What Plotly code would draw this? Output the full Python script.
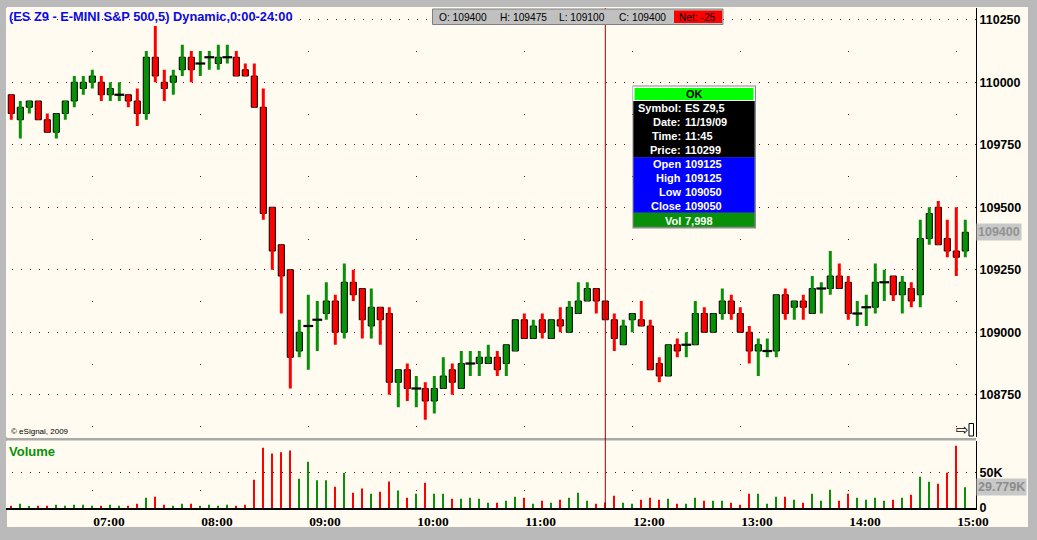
import plotly.graph_objects as go
import pandas as pd

# ---------------- data ----------------
bar_times = pd.date_range("2009-11-19 06:15", periods=107, freq="5min")

opens = [109950, 109850, 109900, 109925, 109850, 109800, 109875, 109925, 109975, 110000,
         110000, 109950, 109950, 109950, 109925, 109875, 110100, 110000, 110000, 110050,
         110100, 110075, 110100, 110075, 110100, 110100, 110050, 110025, 109900, 109500,
         109350, 109250, 108925, 109025, 109050, 109075, 109125, 109000, 109200, 109175,
         109025, 109100, 109075, 108800, 108850, 108775, 108775, 108725, 108775, 108850,
         108775, 108875, 108875, 108875, 108900, 108875, 108925, 109050, 108975, 109050,
         108975, 109050, 109000, 109075, 109125, 109175, 109125, 109050, 108950, 109050,
         109050, 109025, 108875, 108825, 108950, 108950, 108950, 109075, 109000, 109075,
         109125, 109075, 109000, 108925, 108925, 108925, 109150, 109100, 109125, 109075,
         109175, 109175, 109225, 109200, 109075, 109100, 109100, 109200, 109225, 109150,
         109175, 109150, 109375, 109500, 109375, 109325, 109325]
highs = [109950, 109925, 109925, 109925, 109875, 109875, 109925, 110025, 110025, 110050,
         110025, 110000, 110000, 109950, 109975, 110125, 110225, 110050, 110050, 110150,
         110125, 110125, 110125, 110150, 110150, 110125, 110075, 110075, 109975, 109500,
         109350, 109250, 109050, 109150, 109125, 109200, 109150, 109275, 109250, 109175,
         109175, 109100, 109100, 108850, 108875, 108825, 108800, 108825, 108900, 108875,
         108925, 108925, 108925, 108950, 108925, 108950, 109050, 109075, 109050, 109075,
         109050, 109100, 109125, 109200, 109200, 109175, 109125, 109075, 109050, 109075,
         109125, 109050, 108900, 108950, 108975, 109000, 109125, 109100, 109075, 109175,
         109150, 109100, 109025, 108975, 108975, 109150, 109175, 109125, 109150, 109225,
         109200, 109325, 109275, 109225, 109125, 109150, 109275, 109250, 109225, 109225,
         109200, 109450, 109500, 109525, 109450, 109500, 109450]
lows = [109850, 109775, 109875, 109850, 109800, 109775, 109850, 109900, 109950, 109975,
        109925, 109925, 109925, 109900, 109825, 109850, 110000, 109925, 109950, 110025,
        110000, 110025, 110050, 110050, 110075, 110025, 110025, 109900, 109450, 109250,
        109075, 108775, 108900, 108850, 108925, 109050, 108950, 108975, 109125, 108975,
        108975, 108950, 108750, 108700, 108725, 108700, 108650, 108675, 108775, 108750,
        108775, 108825, 108825, 108875, 108825, 108825, 108925, 108975, 108975, 108975,
        108975, 109000, 109000, 109075, 109125, 109075, 109050, 108925, 108950, 109000,
        109025, 108850, 108800, 108825, 108900, 108900, 108950, 109000, 109000, 109050,
        109050, 109000, 108875, 108825, 108900, 108900, 109050, 109050, 109050, 109075,
        109075, 109150, 109175, 109050, 109025, 109025, 109075, 109125, 109125, 109075,
        109100, 109100, 109350, 109350, 109300, 109225, 109300]
closes = [109875, 109900, 109925, 109850, 109800, 109875, 109925, 110000, 110000, 110025,
          109950, 109975, 109950, 109925, 109875, 110100, 110025, 109975, 110025, 110100,
          110050, 110075, 110100, 110100, 110100, 110025, 110025, 109900, 109475, 109325,
          109225, 108900, 109000, 109025, 109050, 109125, 109000, 109200, 109150, 109050,
          109100, 109050, 108800, 108850, 108775, 108775, 108725, 108775, 108825, 108800,
          108875, 108875, 108900, 108900, 108850, 108950, 109050, 108975, 109025, 109000,
          109050, 109025, 109100, 109125, 109175, 109125, 109050, 108975, 109025, 109075,
          109025, 108850, 108825, 108950, 108925, 108950, 109075, 109000, 109075, 109125,
          109075, 109000, 108925, 108950, 108925, 109150, 109075, 109125, 109100, 109175,
          109175, 109225, 109175, 109075, 109075, 109100, 109200, 109200, 109150, 109200,
          109125, 109375, 109475, 109350, 109325, 109300, 109400]
volumes = [3300, 6200, 1900, 3300, 3300, 4800, 3300, 4800, 4800, 3300,
           3300, 4800, 3300, 3300, 6200, 14800, 16200, 4800, 3300, 6200,
           6200, 3300, 4800, 3300, 4800, 3300, 4800, 40500, 86000, 78000,
           79500, 82000, 41900, 66000, 39500, 39500, 30500, 50000, 21900, 28000,
           20500, 23300, 38000, 25000, 14800, 20500, 36000, 20500, 20500, 13300,
           13300, 14800, 13300, 7600, 7600, 10500, 16200, 14800, 6200, 10500,
           7600, 11900, 14800, 21900, 10500, 6200, 7998, 17600, 7600, 6200,
           11900, 14800, 11900, 13300, 6200, 6200, 14800, 10500, 10500, 10500,
           7600, 4800, 20500, 20500, 6200, 16200, 16200, 11900, 7600, 20500,
           10500, 26200, 10500, 20500, 14800, 11900, 14800, 10500, 11900, 14800,
           19000, 44700, 37600, 34700, 50500, 89000, 29779]

price_ticks = [108750, 109000, 109250, 109500, 109750, 110000, 110250]
volume_ticks = [0, 50000]
volume_tick_text = ["0", "50K"]
cursor_bar = 66
title_text = "(ES Z9 - E-MINI S&P 500,5) Dynamic,0:00-24:00"
ohlc_labels = ["O: 109400", "H: 109475", "L: 109100", "C: 109400"]
net_label = "Net: -25"
tip_labels = ["Symbol:", "Date:", "Time:", "Price:", "Open", "High", "Low", "Close", "Vol"]
tip_values = ["ES Z9,5", "11/19/09", "11:45", "110299", "109125", "109125", "109050", "109050", "7,998"]

# ---------------- styling ----------------
W, H = 1037, 540
L, R, T, B = 6, 61, 8, 32
PW, PH = W - L - R, H - T - B
GREEN = "#089108"
RED = "#ff0000"
CREAM = "#fffbf0"
GRID = "#8b0000"
AXFONT = "Liberation Sans, Arial, sans-serif"
AXSIZE = 12.5


def px(x):
    return (x - L) / PW


def py(y):
    return (H - B - y) / PH


step = pd.Timedelta(minutes=5)
x_range = [bar_times[0] - 0.59 * step, bar_times[0] + 107.19 * step]
ms5 = 300000

fig = go.Figure()

# wicks
for color, want_up in ((GREEN, True), (RED, False)):
    xs, ys = [], []
    for t, o, h, l, c in zip(bar_times, opens, highs, lows, closes):
        if (c >= o) == want_up:
            xs += [t, t, None]
            ys += [l, h, None]
    fig.add_trace(go.Scatter(x=xs, y=ys, mode="lines", line=dict(color=color, width=3),
                             xaxis="x", yaxis="y", hoverinfo="skip"))

# bodies
bx, bbase, bh, bcol = [], [], [], []
dx, dy = [], []
for t, o, c in zip(bar_times, opens, closes):
    if o == c:
        dx.append(t)
        dy.append(o)
    else:
        bx.append(t)
        bbase.append(min(o, c))
        bh.append(abs(c - o))
        bcol.append(GREEN if c > o else RED)
fig.add_trace(go.Bar(x=bx, y=bh, base=bbase, width=0.68 * ms5,
                     marker=dict(color=bcol, line=dict(color="black", width=1)),
                     xaxis="x", yaxis="y", hoverinfo="skip"))
fig.add_trace(go.Scatter(x=dx, y=dy, mode="markers",
                         marker=dict(symbol="line-ew", size=7, line=dict(color="black", width=2.2)),
                         xaxis="x", yaxis="y", hoverinfo="skip"))

# volume
vcol = [GREEN if c >= o else RED for o, c in zip(opens, closes)]
fig.add_trace(go.Bar(x=bar_times, y=volumes, width=0.14 * ms5, marker=dict(color=vcol, line=dict(width=0)),
                     xaxis="x2", yaxis="y2", hoverinfo="skip"))

shapes = []
# cream window body
shapes.append(dict(type="rect", xref="paper", yref="paper", x0=px(7), x1=px(1028), y0=py(527), y1=py(7),
                   fillcolor=CREAM, line=dict(width=0), layer="below"))
# panel separator
shapes.append(dict(type="rect", xref="paper", yref="paper", x0=px(6), x1=px(976), y0=py(440.5), y1=py(438),
                   fillcolor="#a9a9a9", line=dict(width=0), layer="above"))
# crosshair
shapes.append(dict(type="line", xref="x", yref="paper", x0=bar_times[cursor_bar], x1=bar_times[cursor_bar],
                   y0=0, y1=1, line=dict(color="#990000", width=1), layer="above"))
# top OHLC box
shapes.append(dict(type="rect", xref="paper", yref="paper", x0=px(432.5), x1=px(723), y0=py(24.5), y1=py(9),
                   fillcolor="#c0c0c0", line=dict(color="#808080", width=1), layer="above"))
shapes.append(dict(type="rect", xref="paper", yref="paper", x0=px(674), x1=px(722), y0=py(23), y1=py(10.5),
                   fillcolor="#ff0000", line=dict(width=0), layer="above"))
# tooltip box
shapes.append(dict(type="rect", xref="paper", yref="paper", x0=px(632.5), x1=px(756), y0=py(228.5), y1=py(85.5),
                   fillcolor="#8a8a8a", line=dict(width=0), layer="above"))
shapes.append(dict(type="rect", xref="paper", yref="paper", x0=px(633), x1=px(755), y0=py(101), y1=py(86.5),
                   fillcolor="#ffffff", line=dict(width=0), layer="above"))
shapes.append(dict(type="rect", xref="paper", yref="paper", x0=px(634.5), x1=px(753.5), y0=py(100), y1=py(88),
                   fillcolor="#00ff00", line=dict(width=0), layer="above"))
for top, bot, col in ((101, 157.3, "#000000"), (157.3, 212.7, "#0000ff"), (212.7, 226.8, GREEN)):
    shapes.append(dict(type="rect", xref="paper", yref="paper", x0=px(633.5), x1=px(754.5), y0=py(bot), y1=py(top),
                       fillcolor=col, line=dict(width=0), layer="above"))
# scroll icon frame
shapes.append(dict(type="rect", xref="paper", yref="paper", x0=px(969), x1=px(973.5), y0=py(436), y1=py(423.5),
                   fillcolor="#ffffff", line=dict(color="black", width=1), layer="above"))

annotations = []


def ann(text, x, y, anchor="left", size=11, color="black", bold=False, family="Liberation Sans, Arial, sans-serif",
        bg=None):
    d = dict(text=text, xref="paper", yref="paper", x=px(x), y=py(y), xanchor=anchor, yanchor="middle",
             showarrow=False, font=dict(size=size, color=color, family=family, weight="bold" if bold else "normal"),
             borderpad=0)
    if bg:
        d["bgcolor"] = bg
    annotations.append(d)


ann(title_text, 8, 16, size=12.8, color="#0a0ae6", bold=True)
for lab, xx in zip(ohlc_labels, (438, 499, 558, 618)):
    ann(lab, xx, 17.3, size=10.2)
ann(net_label, 678, 17.3, size=10.2)
ann("© eSignal, 2009", 10, 431.5, size=8)
ann("Volume", 8, 451.5, size=13, color=GREEN, bold=True)
ann("⇨", 962, 430, anchor="center", size=15, family="DejaVu Sans, sans-serif")
ann("OK", 694, 94, anchor="center", size=11, bold=True)
rows_y = [108.3, 122.3, 136, 150.3, 164.3, 178.3, 192, 206, 220.7]
for lab, val, yy in zip(tip_labels, tip_values, rows_y):
    ann(lab, 681.5, yy, anchor="right", size=11, color="white", bold=True)
    ann(val, 684, yy, anchor="left", size=11, color="white", bold=True)

# last price / last volume markers on the axes
annotations.append(dict(text=str(closes[-1]), xref="paper", yref="y", x=1, y=closes[-1], xanchor="left",
                        yanchor="middle", showarrow=False, bgcolor="#c8c8c8", borderpad=1,
                        font=dict(size=AXSIZE, color="#929292", family=AXFONT, weight="bold")))
annotations.append(dict(text=f"{volumes[-1] / 1000:.3f}K", xref="paper", yref="y2", x=1, y=volumes[-1],
                        xanchor="left", yanchor="middle", showarrow=False, bgcolor="#c8c8c8", borderpad=1,
                        font=dict(size=AXSIZE, color="#8c8c8c", family=AXFONT, weight="bold")))

fig.update_layout(
    width=W, height=H, margin=dict(l=L, r=R, t=T, b=B, pad=0, autoexpand=False),
    paper_bgcolor="#bababa", plot_bgcolor=CREAM,
    showlegend=False, barmode="overlay", hovermode=False, dragmode=False,
    xaxis=dict(domain=[0, 1], anchor="y", type="date", range=x_range, showticklabels=False, automargin=False,
               tick0="2009-11-19 07:00", dtick=3600000, showgrid=True, gridcolor=GRID, gridwidth=1,
               griddash="0px,43px,1px,18.5px", zeroline=False, showline=False, ticks=""),
    xaxis2=dict(domain=[0, 1], anchor="y2", type="date", range=x_range, tickformat="%H:%M", automargin=False,
                tick0="2009-11-19 07:00", dtick=3600000, ticklabelposition="outside right",
                tickfont=dict(size=13.5, color="black", family="Liberation Serif, Times New Roman, serif",
                              weight="bold"),
                showgrid=True, gridcolor=GRID, gridwidth=1, griddash="0px,49px,1px,13.5px",
                zeroline=False, showline=True, linecolor="black", linewidth=2, ticks=""),
    yaxis=dict(domain=[py(437), 1], anchor="x", side="right", range=[108581, 110297], automargin=False,
               tickvals=price_ticks, ticktext=[str(v) for v in price_ticks],
               tickfont=dict(size=AXSIZE, color="black", family=AXFONT, weight="bold"),
               showgrid=True, gridcolor=GRID, gridwidth=1, griddash="0px,5.5px,1px,2.5px",
               zeroline=False, showline=True, linecolor="black", linewidth=1, ticks=""),
    yaxis2=dict(domain=[0, py(441)], anchor="x2", side="right", range=[0, 95700], automargin=False,
                tickvals=volume_ticks, ticktext=volume_tick_text,
                tickfont=dict(size=AXSIZE, color="black", family=AXFONT, weight="bold"),
                showgrid=True, gridcolor=GRID, gridwidth=1, griddash="0px,5.5px,1px,2.5px",
                zeroline=False, showline=True, linecolor="black", linewidth=1, ticks=""),
    shapes=shapes, annotations=annotations,
)

fig.write_html("out.html", config={"displayModeBar": False},
               post_script="document.body.style.margin='0px';document.body.style.overflow='hidden';")
